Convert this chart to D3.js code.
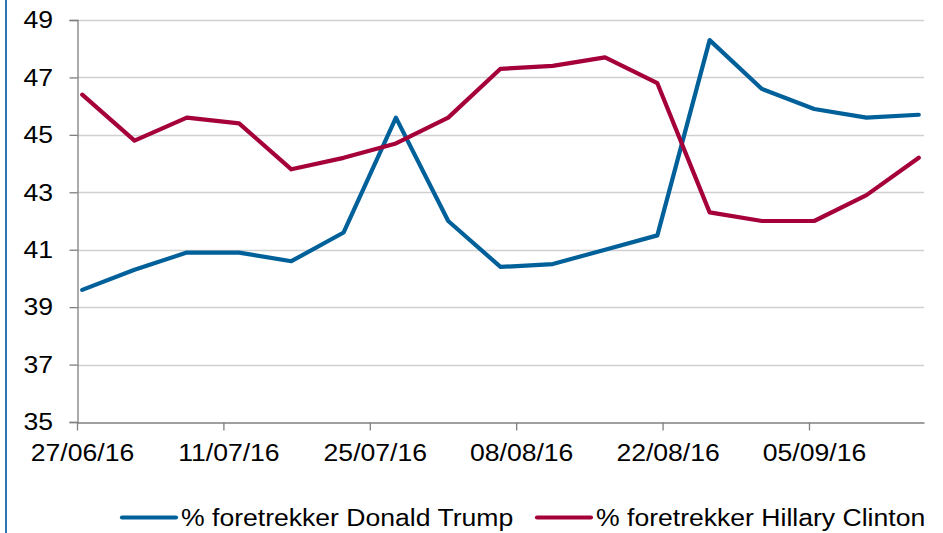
<!DOCTYPE html>
<html>
<head>
<meta charset="utf-8">
<script src="https://cdn.jsdelivr.net/npm/d3@7"></script>
<style>
html,body{margin:0;padding:0;background:#fff;}
svg{display:block;font-family:"Liberation Sans",Arial,sans-serif;}
</style>
</head>
<body>
<svg id="chart" width="943" height="533"></svg>
<script>
// ---- data ----
const dates = ["27/06/16","02/07/16","07/07/16","12/07/16","17/07/16","22/07/16","27/07/16","01/08/16","06/08/16","11/08/16","16/08/16","21/08/16","26/08/16","31/08/16","05/09/16","10/09/16","15/09/16"];
const trump = [39.6,40.3,40.9,40.9,40.6,41.6,45.6,42.0,40.4,40.5,41.0,41.5,48.3,46.6,45.9,45.6,45.7];
const clinton = [46.4,44.8,45.6,45.4,43.8,44.2,44.7,45.6,47.3,47.4,47.7,46.8,42.3,42.0,42.0,42.9,44.2];
const tickLabels = ["27/06/16","11/07/16","25/07/16","08/08/16","22/08/16","05/09/16"];
const yTicks = [35,37,39,41,43,45,47,49];
const seriesNames = ["% foretrekker Donald Trump","% foretrekker Hillary Clinton"];
const colors = ["#00609A","#A5003A"];

const parse = d3.timeParse("%d/%m/%y");
const svg = d3.select("#chart");
const m = {left:77, right:19, top:20, bottom:111};
const W = 943, H = 533;
const FS = 24.5, SX = 1.085;

const start = parse(dates[0]);
const end = d3.timeDay.offset(parse(dates[dates.length-1]), 1);
const x = d3.scaleTime().domain([start, end]).range([m.left, W - m.right]);
const y = d3.scaleLinear().domain([35,49]).range([H - m.bottom, m.top]);
const xp = d => x(d3.timeHour.offset(parse(d), 12));

// slide border fragment
svg.append("line").attr("x1",6).attr("x2",6).attr("y1",0).attr("y2",H)
  .attr("stroke","#2E75B6").attr("stroke-width",2);

// gridlines
svg.append("g").selectAll("line").data(yTicks.filter(v=>v>35)).join("line")
  .attr("x1", m.left).attr("x2", W - m.right)
  .attr("y1", d=>Math.round(y(d))+0.5).attr("y2", d=>Math.round(y(d))+0.5)
  .attr("stroke","#D0D0D0").attr("stroke-width",1.3);

// y axis
const yAxis = svg.append("g").attr("transform",`translate(${m.left+0.5},0)`)
  .call(d3.axisLeft(y).tickValues(yTicks).tickSize(8).tickPadding(0).tickFormat(d3.format("d")));
yAxis.select(".domain").attr("stroke","#7F7F7F").attr("stroke-width",1.3);
yAxis.selectAll(".tick line").attr("stroke","#7F7F7F").attr("stroke-width",1.3);
yAxis.selectAll("text").attr("x",0)
  .attr("transform",`translate(-24.5,0) scale(${SX},1)`)
  .attr("font-size",FS).attr("fill","#000")
  .attr("font-family","'Liberation Sans',Arial,sans-serif");

// x axis
const xAxis = svg.append("g").attr("transform",`translate(0,${Math.round(H - m.bottom)+0.5})`)
  .call(d3.axisBottom(x).tickValues(tickLabels.map(parse)).tickSize(8).tickSizeOuter(0)
    .tickPadding(12).tickFormat(d3.timeFormat("%d/%m/%y")));
xAxis.select(".domain").attr("stroke","#7F7F7F").attr("stroke-width",1.3);
xAxis.selectAll(".tick line").attr("stroke","#7F7F7F").attr("stroke-width",1.3);
xAxis.selectAll("text").attr("transform",`translate(5,1) scale(${SX},1)`)
  .attr("font-size",FS).attr("fill","#000")
  .attr("font-family","'Liberation Sans',Arial,sans-serif");

// lines
const line = d3.line().x((d,i)=>xp(dates[i])).y(d=>y(d));
[trump, clinton].forEach((s,i)=>{
  svg.append("path").datum(s).attr("d", line)
    .attr("fill","none").attr("stroke", colors[i]).attr("stroke-width",4.2)
    .attr("stroke-linejoin","round").attr("stroke-linecap","round");
});

// legend
const legendX = [122, 537];
const lg = svg.append("g");
seriesNames.forEach((name,i)=>{
  lg.append("line").attr("x1",legendX[i]).attr("x2",legendX[i]+54)
    .attr("y1",517.5).attr("y2",517.5).attr("stroke",colors[i])
    .attr("stroke-width",4.2).attr("stroke-linecap","round");
  lg.append("text").attr("transform",`translate(${legendX[i]+59},526) scale(${SX},1)`)
    .attr("font-size",FS).attr("fill","#000").text(name);
});
</script>
</body>
</html>
